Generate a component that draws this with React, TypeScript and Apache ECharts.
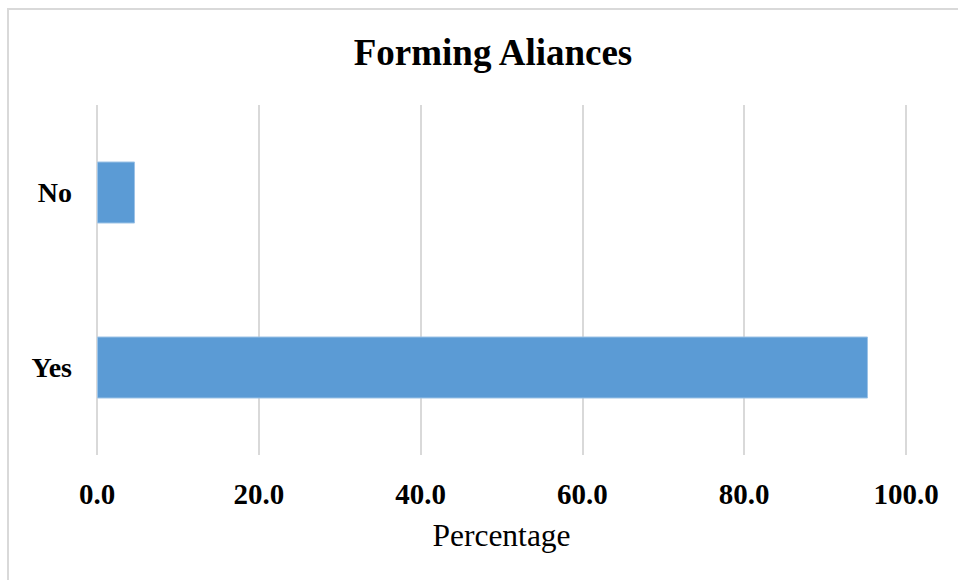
import React, { useEffect, useRef } from "react";
import * as echarts from "echarts";

const categories = ["Yes", "No"];
const percentages = [95.3, 4.7];
const xTicks = [0, 20, 40, 60, 80, 100];

export default function App() {
  const ref = useRef<HTMLDivElement>(null);
  useEffect(() => {
    if (!ref.current) return;
    const chart = echarts.init(ref.current, null, { renderer: "svg" });
    const serif = "'Liberation Serif', 'Times New Roman', serif";
    chart.setOption({
      animation: false,
      backgroundColor: "#ffffff",
      title: {
        text: "Forming Aliances",
        left: 488,
        top: 29,
        textAlign: "center",
        textStyle: { fontFamily: serif, fontWeight: "bold", fontSize: 37, color: "#000" },
      },
      graphic: [
        {
          type: "rect",
          shape: { x: 8, y: 9, width: 1000, height: 700 },
          style: { fill: "none", stroke: "#d9d9d9", lineWidth: 2 },
          silent: true,
        },
      ],
      grid: { left: 97, right: 52, top: 105, bottom: 125, containLabel: false },
      xAxis: {
        type: "value",
        min: xTicks[0],
        max: xTicks[xTicks.length - 1],
        interval: 20,
        name: "Percentage",
        nameLocation: "middle",
        nameGap: 64,
        nameTextStyle: { fontFamily: serif, fontSize: 31.5, color: "#000" },
        axisLine: { show: false },
        axisTick: { show: false },
        axisLabel: {
          margin: 24,
          fontFamily: serif,
          fontWeight: "bold",
          fontSize: 29,
          color: "#000",
          formatter: (v: number) => v.toFixed(1),
        },
        splitLine: { show: true, lineStyle: { color: "#d9d9d9", width: 2 } },
      },
      yAxis: {
        type: "category",
        data: categories,
        axisLine: { show: false },
        axisTick: { show: false },
        axisLabel: {
          margin: 25,
          fontFamily: serif,
          fontWeight: "bold",
          fontSize: 28,
          color: "#000",
        },
      },
      series: [
        {
          type: "bar",
          data: percentages,
          barWidth: 62,
          itemStyle: { color: "#5b9bd5", borderColor: "#9dc3e6", borderWidth: 1 },
        },
      ],
    });
    return () => chart.dispose();
  }, []);
  return (
    <div
      ref={ref}
      style={{ position: "fixed", left: 0, top: 0, width: 958, height: 580 }}
    />
  );
}
